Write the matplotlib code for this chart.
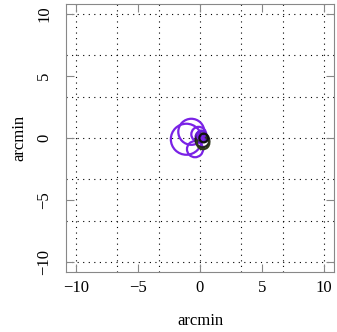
import matplotlib.pyplot as plt
import numpy as np
from matplotlib.patches import Circle

plt.rcParams['font.family'] = ['Liberation Serif', 'DejaVu Serif']

# circle centres (arcmin), radii and colours
cx = [-1.1, -0.7, -0.4, -0.1, 0.1, 0.2, 0.25, 0.1, 0.0, 0.3]
cy = [-0.1, 0.5, -0.9, 0.3, 0.1, -0.2, -0.4, 0.3, 0.1, 0.0]
radius = [1.25, 1.05, 0.65, 0.6, 0.45, 0.55, 0.5, 0.3, 0.2, 0.35]
colors = ['#7a22e6', '#7a22e6', '#7a22e6', '#7a22e6', '#5a18c0',
          '#222222', '#2f3a1a', '#6a1ee0', '#7a22e6', '#111111']

ticks = [-10, -5, 0, 5, 10]
grid_pos = np.array([-3, -2, -1, 0, 1, 2, 3]) * 10 / 3

fig = plt.figure(figsize=(3.37, 3.32), dpi=100)
ax = fig.add_axes([65 / 337, 60 / 332, 270 / 337, 268 / 332])

for g in grid_pos:
    ax.axvline(g, color='black', lw=0.8, ls=(0, (1, 4)), zorder=1)
    ax.axhline(g, color='black', lw=0.8, ls=(0, (1, 4)), zorder=1)

for x, y, r, c in zip(cx, cy, radius, colors):
    ax.add_patch(Circle((x, y), r, fill=False, ec=c, lw=1.6, zorder=3))

ax.set_xlim(-10.8, 10.8)
ax.set_ylim(-10.8, 10.8)
ax.set_aspect('equal', adjustable='box')
ax.set_xticks(ticks)
ax.set_yticks(ticks)
ax.set_xticklabels([str(t).replace('-', '\u2212') for t in ticks], fontsize=12)
ax.set_yticklabels([str(t).replace('-', '\u2212') for t in ticks], fontsize=12,
                   rotation=90, va='center')
ax.tick_params(direction='in', length=6, color='#888888', top=True, right=True)
ax.tick_params(axis='x', pad=6)
ax.tick_params(axis='y', pad=10)
for s in ax.spines.values():
    s.set_color('#888888')
    s.set_linewidth(0.8)

ax.set_xlabel('arcmin', fontsize=12, labelpad=12)
ax.set_ylabel('arcmin', fontsize=12, labelpad=6)

fig.savefig('out.png', dpi=100)
